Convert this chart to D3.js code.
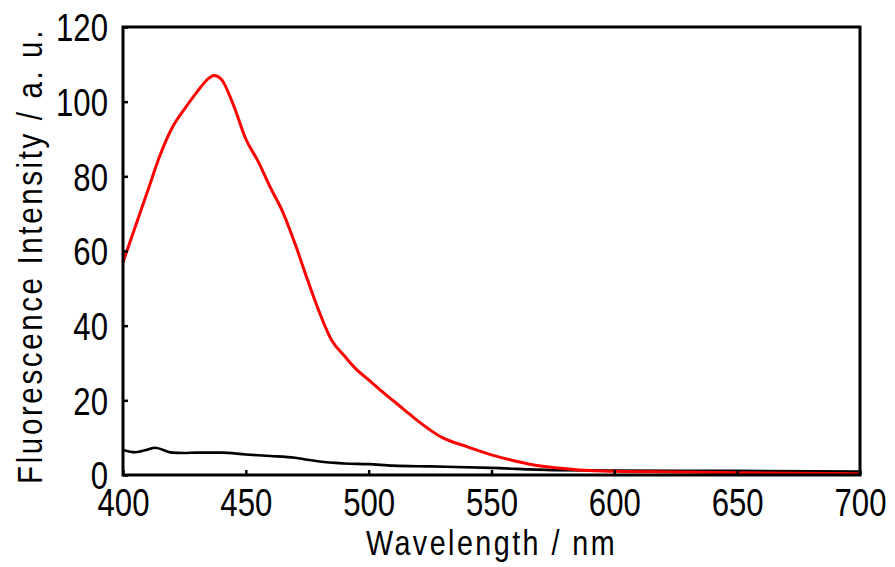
<!DOCTYPE html>
<html>
<head>
<meta charset="utf-8">
<script src="https://cdn.jsdelivr.net/npm/d3@7"></script>
<style>
  body { margin: 0; background: #fff; }
  text { font-family: "Liberation Sans", Arial, sans-serif; fill: #000; }
</style>
</head>
<body>
<svg width="895" height="567"></svg>
<script>
// wavelengths (nm) and intensities
const redWl = [400, 405, 410, 415, 420, 425, 430, 435, 437, 440, 445, 450, 455, 460, 465, 470, 475, 480, 485, 490, 495, 500, 505, 510, 515, 520, 530, 540, 550, 560, 570, 580, 590, 600, 625, 650, 675, 700];
const redVal = [57, 66.5, 76, 85.5, 93, 98, 102.5, 106.3, 107, 106, 99, 90, 84, 77, 70.5, 62, 52.5, 43.5, 36, 32, 28.3, 25.5, 22.6, 19.9, 17.2, 14.5, 10, 7.6, 5.4, 3.7, 2.4, 1.7, 1.2, 1.0, 0.8, 0.6, 0.45, 0.35];

const blackWl = [400, 405, 410, 413, 420, 425, 430, 440, 450, 460, 470, 475, 480, 490, 500, 510, 525, 550, 575, 600, 650, 700];
const blackVal = [6.7, 6.1, 6.8, 7.3, 6.0, 5.9, 6.0, 6.0, 5.5, 5.1, 4.6, 4.1, 3.6, 3.1, 2.9, 2.5, 2.3, 1.9, 1.3, 1.2, 1.1, 0.9];

const xTicks = [400, 450, 500, 550, 600, 650, 700];
const yTicks = [0, 20, 40, 60, 80, 100, 120];

const svg = d3.select('svg');
const margin = { top: 27, right: 35, bottom: 92, left: 123 };
const width = +svg.attr('width');
const height = +svg.attr('height');
const chartWidth = width - margin.left - margin.right;
const chartHeight = height - margin.top - margin.bottom;
const squeeze = 0.82; // the original font is a narrow one

const x = d3.scaleLinear().domain([400, 700]).range([0, chartWidth]);
const y = d3.scaleLinear().domain([0, 120]).range([chartHeight, 0]);

const chart = svg.append('g')
  .attr('transform', `translate(${margin.left},${margin.top})`);

// lines
const line = d3.line()
  .x(d => x(d[0]))
  .y(d => y(d[1]))
  .curve(d3.curveMonotoneX);

chart.append('path')
  .datum(blackWl.map((w, i) => [w, blackVal[i]]))
  .attr('d', line)
  .attr('fill', 'none')
  .attr('stroke', '#000')
  .attr('stroke-width', 2.6);

chart.append('path')
  .datum(redWl.map((w, i) => [w, redVal[i]]))
  .attr('d', line)
  .attr('fill', 'none')
  .attr('stroke', '#ff0000')
  .attr('stroke-width', 3);

// axes, ticks inside
const xAxis = chart.append('g')
  .attr('transform', `translate(0,${chartHeight})`)
  .call(d3.axisBottom(x).tickValues(xTicks).tickSizeInner(-5).tickSizeOuter(0).tickPadding(14));
const yAxis = chart.append('g')
  .call(d3.axisLeft(y).tickValues(yTicks).tickSizeInner(-5).tickSizeOuter(0).tickPadding(15));

[xAxis, yAxis].forEach(a => {
  a.select('.domain').remove();
  a.selectAll('line').attr('stroke', '#000').attr('stroke-width', 2.5);
  a.selectAll('text')
    .style('font-family', '"Liberation Sans", Arial, sans-serif')
    .attr('font-size', 38)
    .attr('transform', `scale(${squeeze},1)`);
});
xAxis.selectAll('text').attr('dy', '0.72em');
yAxis.selectAll('text').attr('dy', '0.36em').attr('x', -15 / squeeze);

// frame
chart.append('rect')
  .attr('width', chartWidth)
  .attr('height', chartHeight)
  .attr('fill', 'none')
  .attr('stroke', '#000')
  .attr('stroke-width', 3);

// axis titles
svg.append('text')
  .attr('transform', `translate(${margin.left + chartWidth / 2},555) scale(${squeeze},1)`)
  .attr('text-anchor', 'middle')
  .attr('font-size', 35)
  .attr('letter-spacing', 3)
  .text('Wavelength / nm');

svg.append('text')
  .attr('transform', `translate(42,256) rotate(-90) scale(${squeeze},1)`)
  .attr('text-anchor', 'middle')
  .attr('font-size', 36)
  .attr('letter-spacing', 3.2)
  .text('Fluorescence Intensity / a. u.');
</script>
</body>
</html>
